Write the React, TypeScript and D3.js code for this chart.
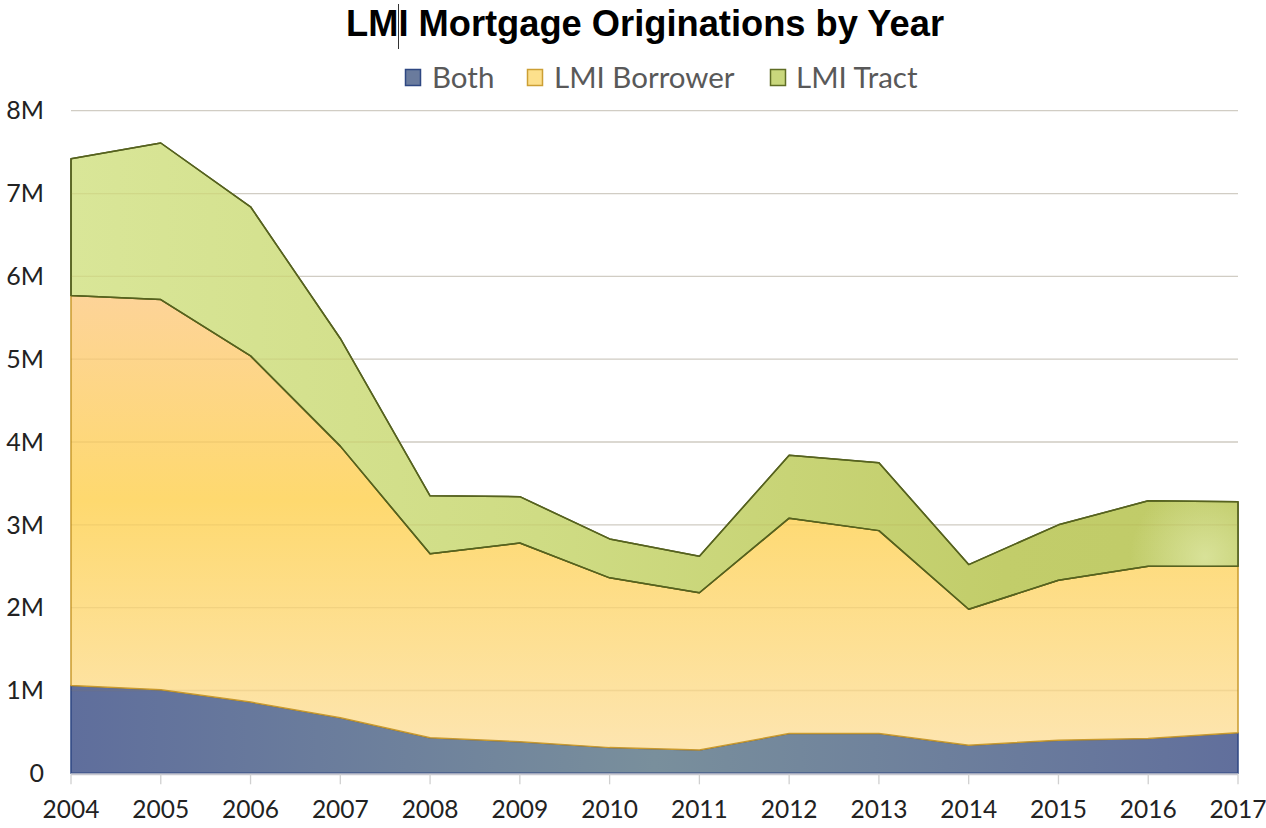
import React from "react";
import * as d3 from "d3";

const years = [2004, 2005, 2006, 2007, 2008, 2009, 2010, 2011, 2012, 2013, 2014, 2015, 2016, 2017];
// values in millions
const both = [1.06, 1.01, 0.86, 0.67, 0.43, 0.38, 0.31, 0.28, 0.48, 0.48, 0.34, 0.4, 0.42, 0.49];
const lmiBorrower = [4.71, 4.71, 4.18, 3.28, 2.22, 2.4, 2.05, 1.9, 2.6, 2.45, 1.64, 1.93, 2.08, 2.01];
const lmiTract = [1.65, 1.89, 1.8, 1.3, 0.7, 0.56, 0.47, 0.44, 0.76, 0.82, 0.54, 0.67, 0.79, 0.78];
const seriesNames = ["Both", "LMI Borrower", "LMI Tract"];
const yTicks = [0, 1, 2, 3, 4, 5, 6, 7, 8];
const yTickLabels = ["0", "1M", "2M", "3M", "4M", "5M", "6M", "7M", "8M"];

const W = 1266;
const H = 828;
const left = 71;
const right = 1238;
const top = 110.7;
const bottom = 773.3;

export default function App() {
  const x = d3.scaleLinear().domain([2004, 2017]).range([left, right]);
  const y = d3.scaleLinear().domain([0, 8]).range([bottom, top]);

  const rows = years.map((yr, i) => ({ year: yr, Both: both[i], "LMI Borrower": lmiBorrower[i], "LMI Tract": lmiTract[i] }));
  const stacked = d3.stack<any>().keys(seriesNames)(rows);
  const area = d3
    .area<any>()
    .x((d) => x(d.data.year))
    .y0((d) => y(d[0]))
    .y1((d) => y(d[1]));

  const fills = ["url(#gBoth)", "url(#gBorrower)", "url(#gTract)"];
  const strokes = ["#2e4782", "#c99a2e", "#56621f"];

  const legendItems = [
    { name: "Both", sx: 405, tx: 432, fill: "#6a7b9d", stroke: "#2e4782" },
    { name: "LMI Borrower", sx: 527, tx: 554, fill: "#fde08c", stroke: "#cc9f34" },
    { name: "LMI Tract", sx: 770, tx: 796, fill: "#c9d77c", stroke: "#5f6d24" },
  ];

  return (
    <svg width={W} height={H} style={{ position: "absolute", left: 0, top: 0, background: "#fff" }}>
      <defs>
        <linearGradient id="gBoth" x1="0" x2="1" y1="0" y2="0">
          <stop offset="0" stopColor="#5f6e9c" />
          <stop offset="0.5" stopColor="#798f9c" />
          <stop offset="1" stopColor="#616f9c" />
        </linearGradient>
        <linearGradient id="gBorrower" gradientUnits="userSpaceOnUse" x1="0" x2="0" y1={y(6)} y2={y(0)}>
          <stop offset="0" stopColor="#fdd39c" />
          <stop offset="0.45" stopColor="#fed96f" />
          <stop offset="1" stopColor="#fde6b6" />
        </linearGradient>
        <linearGradient id="gTract" x1="0" x2="1" y1="0" y2="0">
          <stop offset="0" stopColor="#d9e698" />
          <stop offset="0.4" stopColor="#cfdc84" />
          <stop offset="0.8" stopColor="#c2cd6a" />
          <stop offset="1" stopColor="#c0cb68" />
        </linearGradient>
        <radialGradient id="gSpot" gradientUnits="userSpaceOnUse" cx={1205} cy={557} r={75}>
          <stop offset="0" stopColor="#e0e9a8" stopOpacity="0.75" />
          <stop offset="1" stopColor="#e0e9a8" stopOpacity="0" />
        </radialGradient>
      </defs>

      <text
        x={645}
        y={36}
        textAnchor="middle"
        fontFamily="'Liberation Sans', Arial, sans-serif"
        fontWeight="bold"
        fontSize={36}
        textLength={598}
        lengthAdjust="spacingAndGlyphs"
        fill="#000"
      >
        LMI Mortgage Originations by Year
      </text>
      <line x1={398.5} x2={398.5} y1={4} y2={49} stroke="#333" strokeWidth={1} />

      {legendItems.map((l) => (
        <g key={l.name}>
          <rect x={l.sx + 0.5} y={69.5} width={15} height={16} fill={l.fill} stroke={l.stroke} strokeWidth={1.5} />
          <text x={l.tx} y={88} fontFamily="Lato, 'Open Sans', sans-serif" fontSize={29.5} fill="#595959">
            {l.name}
          </text>
        </g>
      ))}

      {yTicks.map((t) =>
        t > 0 ? (
          <line key={"g" + t} x1={left} x2={right} y1={y(t)} y2={y(t)} stroke="#d9d9d9" strokeWidth={1.3} />
        ) : null
      )}

      {stacked.map((s, i) => (
        <path key={s.key} d={area(s) || ""} fill={fills[i]} stroke={strokes[i]} strokeWidth={1.5} strokeLinejoin="round" />
      ))}
      <path d={area(stacked[2]) || ""} fill="url(#gSpot)" stroke="none" />
      <path d={area(stacked[2]) || ""} fill="none" stroke={strokes[2]} strokeWidth={1.5} strokeLinejoin="round" />

      {yTicks.map((t) =>
        t > 0 ? (
          <line key={"go" + t} x1={left} x2={right} y1={y(t)} y2={y(t)} stroke="#a07830" strokeOpacity={0.12} strokeWidth={1.3} />
        ) : null
      )}

      <line x1={left} x2={right} y1={bottom + 1} y2={bottom + 1} stroke="#c8c8d0" strokeWidth={2} />
      {years.map((yr) => (
        <line key={"t" + yr} x1={x(yr)} x2={x(yr)} y1={bottom + 1} y2={bottom + 11} stroke="#d0d0d0" strokeWidth={1.3} />
      ))}

      {yTicks.map((t, i) => (
        <text
          key={"yl" + t}
          x={44}
          y={y(t)}
          dy="0.35em"
          textAnchor="end"
          fontFamily="Lato, 'Open Sans', sans-serif"
          fontSize={25}
          fill="#222"
        >
          {yTickLabels[i]}
        </text>
      ))}
      {years.map((yr) => (
        <text
          key={"xl" + yr}
          x={x(yr)}
          y={818}
          textAnchor="middle"
          fontFamily="Lato, 'Open Sans', sans-serif"
          fontSize={24.5}
          fill="#222"
        >
          {String(yr)}
        </text>
      ))}
    </svg>
  );
}
